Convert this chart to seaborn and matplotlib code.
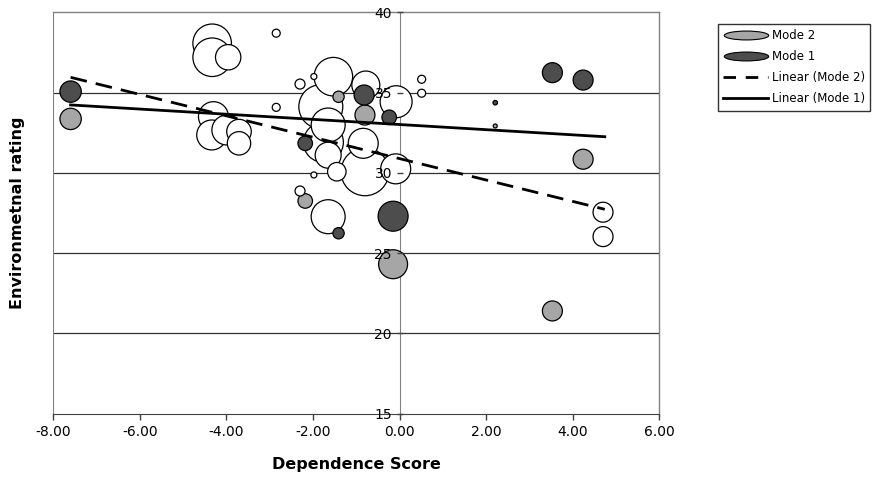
import numpy as np
import pandas as pd
import matplotlib
matplotlib.use("Agg")
import matplotlib.pyplot as plt
from matplotlib.lines import Line2D
from matplotlib.path import Path
from matplotlib.ticker import FormatStrFormatter
import seaborn as sns

plt.rcParams['font.family'] = ['DejaVu Sans']
plt.rcParams['axes.unicode_minus'] = False

# ---- data ----
other_x = [-4.33, -4.33, -3.96, -2.85, -2.85, -4.30, -4.34, -3.99, -3.71, -3.71,
           -2.30, -1.98, -1.53, -0.78, -1.82, -0.08, 0.51, 0.51, -1.65, -1.65,
           -1.45, -0.80, -0.84, -0.09, -1.98, -2.30, -1.65, 4.70, 4.70, -1.76]
other_y = [38.07, 37.20, 37.20, 38.70, 34.08, 33.50, 32.36, 32.67, 32.57, 31.84,
           35.53, 36.00, 35.99, 35.47, 34.12, 34.43, 35.83, 34.96, 32.98, 31.10,
           30.07, 30.07, 31.84, 30.25, 29.87, 28.87, 27.27, 27.55, 26.03, 31.90]
other_s = [372, 372, 161, 16, 16, 225, 225, 225, 151, 137,
           25, 9, 372, 196, 484, 256, 16, 16, 289, 169,
           86, 576, 225, 225, 9, 25, 289, 100, 100, 400]

mode2_x = [-7.60, -1.41, -0.80, -2.18, 2.21, 4.24, 3.53, -0.15]
mode2_y = [33.36, 34.74, 33.60, 28.25, 32.92, 30.85, 21.40, 24.31]
mode2_s = [114, 32, 100, 53, 4, 100, 100, 210]

mode1_x = [-7.60, -0.82, -0.24, -2.18, -1.41, -0.15, 3.53, 4.24, 2.21]
mode1_y = [35.06, 34.85, 33.46, 31.84, 26.24, 27.30, 36.24, 35.78, 34.37]
mode1_s = [114, 100, 53, 53, 32, 225, 100, 100, 5]

trend_x = [-7.60, 4.74]
trend_mode2_y = [35.95, 27.73]
trend_mode1_y = [34.23, 32.25]

x_ticks = [-8, -6, -4, -2, 0, 2, 4, 6]
y_ticks = [15, 20, 25, 30, 35, 40]

series_names = ["Other", "Mode 2", "Mode 1"]
colors = {"Other": "#ffffff", "Mode 2": "#a6a6a6", "Mode 1": "#4d4d4d"}

df = pd.concat([
    pd.DataFrame({"x": other_x, "y": other_y, "size": other_s, "series": "Other"}),
    pd.DataFrame({"x": mode2_x, "y": mode2_y, "size": mode2_s, "series": "Mode 2"}),
    pd.DataFrame({"x": mode1_x, "y": mode1_y, "size": mode1_s, "series": "Mode 1"}),
], ignore_index=True)
df = df.sort_values("size", ascending=False, kind="stable")

# ---- figure ----
fig = plt.figure(figsize=(8.78, 4.80), dpi=100)
ax = fig.add_axes([53.3 / 878, 1 - 413.7 / 480, 606 / 878, 401.4 / 480])

vmax = max(df["size"])
# bubble area proportional to value
sns.scatterplot(data=df, x="x", y="y", hue="series", size="size",
                sizes=(0, 2.07 * vmax), size_norm=(0, vmax),
                palette=colors, hue_order=series_names,
                edgecolor="black", linewidth=0.9, legend=False, ax=ax, zorder=2)

dash = (0, (6, 3.3))
sns.lineplot(x=trend_x, y=trend_mode2_y, ax=ax, color="black", lw=2,
             linestyle=dash, zorder=3)
sns.lineplot(x=trend_x, y=trend_mode1_y, ax=ax, color="black", lw=2,
             zorder=3)

ax.set_xlim(-8, 6)
ax.set_ylim(15, 40)

# horizontal gridlines
for yv in y_ticks[1:-1]:
    ax.axhline(yv, color="#303030", lw=0.9, zorder=0.5)

# axes frame
for side in ["top", "right"]:
    ax.spines[side].set_color("#808080")
    ax.spines[side].set_linewidth(1)
ax.spines["bottom"].set_color("#404040")
ax.spines["left"].set_position(("data", 0))
ax.spines["left"].set_color("#808080")
ax.spines["left"].set_zorder(0.6)
ax.axvline(-8, color="#808080", lw=1.5, zorder=0.6)

ax.set_xticks(x_ticks)
ax.set_yticks(y_ticks)
ax.xaxis.set_major_formatter(FormatStrFormatter("%.2f"))
ax.tick_params(axis="x", direction="out", length=4, width=1, color="#404040",
               labelsize=10, pad=4)
ax.tick_params(axis="y", direction="inout", length=5, width=1, color="#404040",
               labelsize=10, pad=3)
ax.set_axisbelow(False)

ax.set_xlabel("Dependence Score", fontsize=11.5, fontweight="bold")
ax.xaxis.set_label_coords(0.5, -(465 - 413.7) / 401.4)
ax.xaxis.label.set_va("center")
ax.set_ylabel("Environmetnal rating", fontsize=11.5, fontweight="bold")
ax.yaxis.set_label_coords((18 - 53.3) / 606, 0.5)
ax.yaxis.label.set_va("center")

# legend
circ = Path.unit_circle()
ellipse = Path(circ.vertices * np.array([1.0, 0.2]), circ.codes)
handles = [
    Line2D([], [], marker=ellipse, markersize=32, linestyle="none",
           markerfacecolor=colors["Mode 2"], markeredgecolor="black", markeredgewidth=0.8),
    Line2D([], [], marker=ellipse, markersize=32, linestyle="none",
           markerfacecolor=colors["Mode 1"], markeredgecolor="black", markeredgewidth=0.8),
    Line2D([], [], color="black", lw=2, linestyle=(0, (4.5, 3.5))),
    Line2D([], [], color="black", lw=2),
]
labels = ["Mode 2", "Mode 1", "Linear (Mode 2)", "Linear (Mode 1)"]
leg = fig.legend(handles, labels, loc="upper left",
                 bbox_to_anchor=(718 / 878, 1 - 24 / 480),
                 fontsize=8.5, handlelength=3.8, handletextpad=0.3,
                 borderpad=0.45, labelspacing=0.68, borderaxespad=0,
                 fancybox=False, frameon=True)
leg.get_frame().set_edgecolor("black")
leg.get_frame().set_linewidth(1)

fig.savefig("out.png", dpi=100)
